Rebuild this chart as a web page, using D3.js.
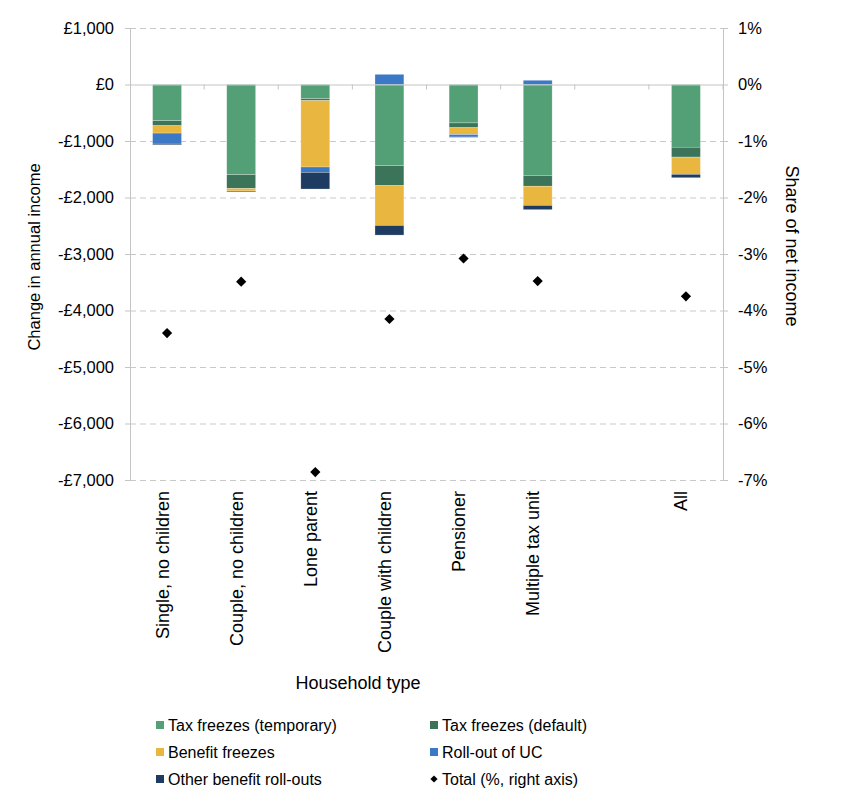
<!DOCTYPE html>
<html>
<head>
<meta charset="utf-8">
<script src="https://cdn.jsdelivr.net/npm/d3@7"></script>
<style>
  body { margin: 0; background: #fff; }
  text { font-family: "Liberation Sans", Arial, sans-serif; fill: #000; }
  .gridlines line { stroke: #c9c9c9; stroke-dasharray: 6, 4; }
  .gridlines .domain { display: none; }
  .axis .domain, .axis line { stroke: #c4c4c4; }
</style>
</head>
<body>
<svg id="chart" width="848" height="812"></svg>
<script>
const categories = ["Single, no children", "Couple, no children", "Lone parent",
  "Couple with children", "Pensioner", "Multiple tax unit", " ", "All"];
const seriesNames = ["Tax freezes (temporary)", "Tax freezes (default)", "Benefit freezes",
  "Roll-out of UC", "Other benefit roll-outs"];
const taxTemp = [-640, -1595, -250, -1435, -680, -1610, 0, -1110];
const taxDefault = [-90, -245, -35, -355, -85, -190, 0, -175];
const benefitFreezes = [-130, -45, -1175, -705, -120, -340, 0, -305];
const rollOutUC = [-195, 0, -95, 180, -45, 75, 0, 0];
const otherRollouts = [-15, -15, -295, -170, -5, -75, 0, -60];
const totalPct = [-4.40, -3.49, -6.86, -4.15, -3.08, -3.48, null, -3.75];
const leftTicks = [1000, 0, -1000, -2000, -3000, -4000, -5000, -6000, -7000];
const rightTicks = [1, 0, -1, -2, -3, -4, -5, -6, -7];

const colors = ["#53a077", "#3c7459", "#e9b740", "#3b79c7", "#1e3b61"];

const margins = { top: 28, right: 125, bottom: 332, left: 130 };
const svg = d3.select("#chart");
const chartWidth = svg.attr("width") - margins.left - margins.right;
const chartHeight = svg.attr("height") - margins.top - margins.bottom;

const rows = categories.map((c, i) => ({
  cat: c,
  [seriesNames[0]]: taxTemp[i],
  [seriesNames[1]]: taxDefault[i],
  [seriesNames[2]]: benefitFreezes[i],
  [seriesNames[3]]: rollOutUC[i],
  [seriesNames[4]]: otherRollouts[i],
  pct: totalPct[i]
}));

const stacked = d3.stack().keys(seriesNames).offset(d3.stackOffsetDiverging)(rows);

const xScale = d3.scaleBand().domain(categories).range([0, chartWidth]).paddingInner(0.61).paddingOuter(0.305);
const xSlot = d3.scaleBand().domain(categories).range([0, chartWidth]);
const yScale = d3.scaleLinear().domain([-7000, 1000]).range([chartHeight, 0]);
const yRight = d3.scaleLinear().domain([-7, 1]).range([chartHeight, 0]);

const chartArea = svg.append("g").attr("transform", `translate(${margins.left},${margins.top})`);

// dashed gridlines
chartArea.append("g")
  .attr("class", "gridlines")
  .call(d3.axisLeft(yScale).tickValues(leftTicks.filter(t => t !== 0)).tickSize(-chartWidth).tickFormat(""));

// left axis
const leftAxis = chartArea.append("g").attr("class", "axis")
  .call(d3.axisLeft(yScale).tickValues(leftTicks).tickSize(5).tickPadding(11)
    .tickFormat(d => (d < 0 ? "-£" : "£") + d3.format(",")(Math.abs(d))));
leftAxis.selectAll("text").style("font-size", "16.5px");

// right axis
const rightAxis = chartArea.append("g").attr("class", "axis")
  .attr("transform", `translate(${chartWidth},0)`)
  .call(d3.axisRight(yRight).tickValues(rightTicks).tickSize(5).tickPadding(10).tickFormat(d => d + "%"));
rightAxis.selectAll("text").style("font-size", "16.5px");

// bars
chartArea.append("g").selectAll("g")
  .data(stacked)
  .join("g")
  .attr("fill", (d, i) => colors[i])
  .selectAll("rect")
  .data(d => d.filter(p => p[1] !== p[0]))
  .join("rect")
  .attr("x", d => xScale(d.data.cat))
  .attr("width", xScale.bandwidth())
  .attr("y", d => yScale(Math.max(d[0], d[1])))
  .attr("height", d => Math.abs(yScale(d[0]) - yScale(d[1])))
  .attr("stroke", "#ffffff")
  .attr("stroke-opacity", 0.5)
  .attr("stroke-width", 0.5);

// zero line with category ticks
const xAxis = chartArea.append("g").attr("class", "axis")
  .attr("transform", `translate(0,${yScale(0)})`)
  .call(d3.axisBottom(xSlot).tickSize(0).tickFormat(""));
xAxis.selectAll(".tick").remove();
xAxis.selectAll(".boundary")
  .data(categories.slice(1).concat(["end"]))
  .join("line")
  .attr("x1", (d, i) => xSlot.step() * (i + 1))
  .attr("x2", (d, i) => xSlot.step() * (i + 1))
  .attr("y1", 0).attr("y2", 5)
  .attr("stroke", "#c4c4c4");

// diamonds
chartArea.append("g").selectAll("path")
  .data(rows.filter(d => d.pct !== null))
  .join("path")
  .attr("d", d3.symbol(d3.symbolSquare, 52))
  .attr("transform", d => `translate(${xSlot(d.cat) + xSlot.bandwidth() / 2},${yRight(d.pct)}) rotate(45)`)
  .attr("fill", "#000");

// category labels
chartArea.append("g").selectAll("text")
  .data(categories.filter(c => c.trim() !== ""))
  .join("text")
  .text(d => d)
  .attr("text-anchor", "end")
  .attr("transform", d => `translate(${xSlot(d) + xSlot.bandwidth() / 2 + 1.5},${chartHeight + 11}) rotate(-90)`)
  .style("font-size", "18px");

// axis titles
const labels = svg.append("g").attr("class", "axis-labels");
labels.append("text")
  .text("Household type")
  .attr("text-anchor", "middle")
  .attr("x", 358).attr("y", 689)
  .style("font-size", "18px");
labels.append("text")
  .text("Change in annual income")
  .attr("text-anchor", "middle")
  .attr("transform", `translate(40,${margins.top + chartHeight / 2 + 3}) rotate(-90)`)
  .style("font-size", "16.5px");
labels.append("text")
  .text("Share of net income")
  .attr("text-anchor", "middle")
  .attr("transform", `translate(786,${margins.top + chartHeight / 2 - 8}) rotate(90)`)
  .style("font-size", "18px");

// legend
const legendItems = [
  { name: seriesNames[0], color: colors[0], x: 156, y: 725 },
  { name: seriesNames[1], color: colors[1], x: 430, y: 725 },
  { name: seriesNames[2], color: colors[2], x: 156, y: 752 },
  { name: seriesNames[3], color: colors[3], x: 430, y: 752 },
  { name: seriesNames[4], color: colors[4], x: 156, y: 779 },
  { name: "Total (%, right axis)", color: "#000", x: 430, y: 779, diamond: true }
];
const legend = svg.append("g").selectAll("g").data(legendItems).join("g")
  .attr("transform", d => `translate(${d.x},${d.y})`);
legend.filter(d => !d.diamond).append("rect")
  .attr("x", 0).attr("y", -4).attr("width", 8).attr("height", 8)
  .attr("fill", d => d.color);
legend.filter(d => d.diamond).append("path")
  .attr("d", d3.symbol(d3.symbolSquare, 26))
  .attr("transform", "translate(4,0) rotate(45)")
  .attr("fill", "#000");
legend.append("text")
  .text(d => d.name)
  .attr("x", 12).attr("y", 5.5)
  .style("font-size", "16px");
</script>
</body>
</html>
